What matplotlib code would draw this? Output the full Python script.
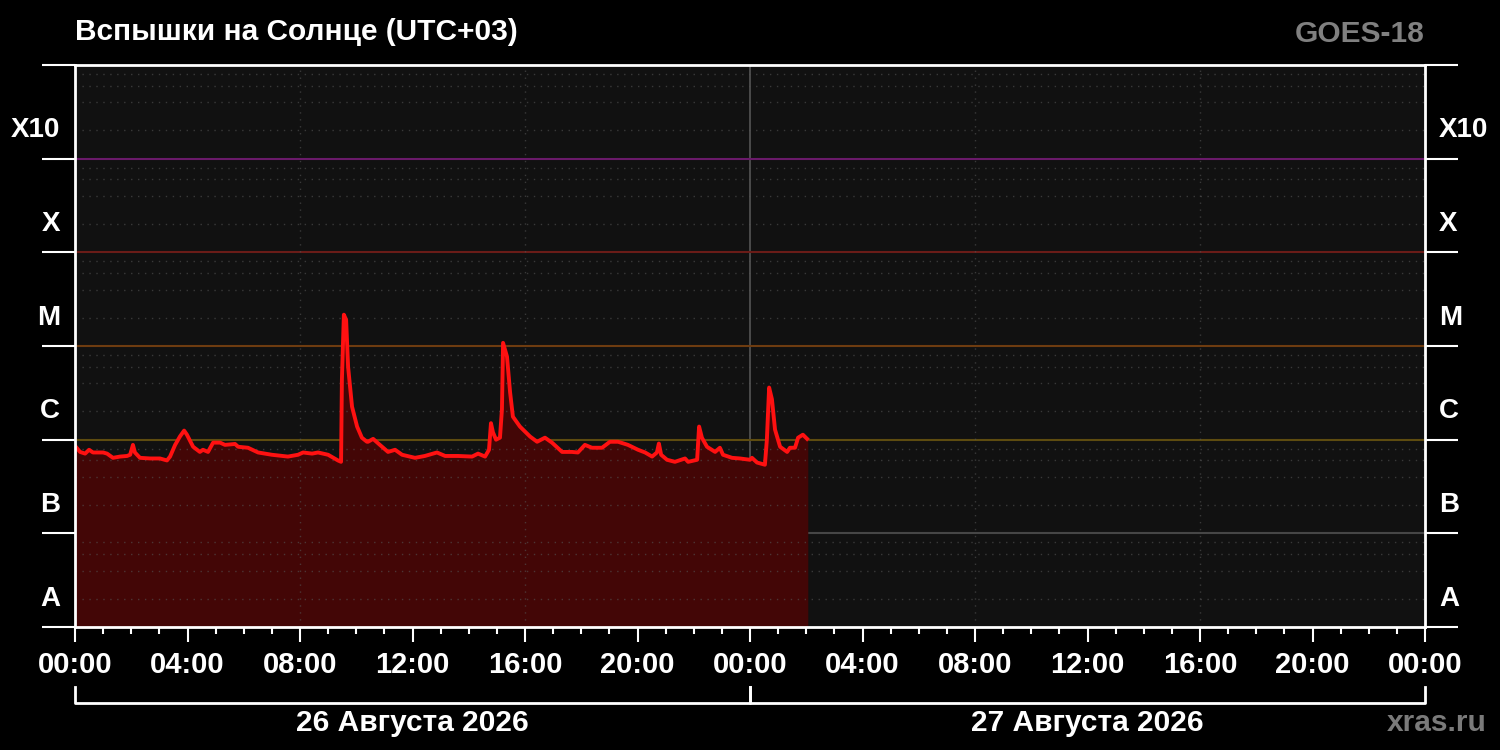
import numpy as np
import pandas as pd
import matplotlib
matplotlib.use('Agg')
from matplotlib import pyplot as plt
import matplotlib.dates as mdates
from matplotlib.transforms import blended_transform_factory
from matplotlib.ticker import LogLocator, NullFormatter

# hours since 26 Aug 2026 00:00 (UTC+03) and X-ray flux, W/m^2
hours = [0.0, 0.18, 0.36, 0.50, 0.64, 0.78, 1.0, 1.14, 1.35, 1.6, 1.85, 1.96, 2.06, 2.13, 2.31,
         2.67, 3.02, 3.27, 3.38, 3.56, 3.73, 3.88, 3.98, 4.2, 4.44, 4.55, 4.73, 4.91, 5.16,
         5.33, 5.69, 5.8, 6.15, 6.51, 7.0, 7.57, 7.93, 8.11, 8.43, 8.64, 9.0, 9.35, 9.46,
         9.49, 9.56, 9.64, 9.71, 9.85, 10.03, 10.2, 10.38, 10.42, 10.6, 10.84, 11.13, 11.38,
         11.63, 12.09, 12.44, 12.87, 13.16, 13.62, 14.12, 14.33, 14.58, 14.72, 14.79, 14.86,
         14.97, 15.11, 15.18, 15.22, 15.36, 15.47, 15.57, 15.82, 16.18, 16.43, 16.71, 16.96,
         17.32, 17.67, 17.88, 18.13, 18.38, 18.74, 19.02, 19.31, 19.66, 20.02, 20.27, 20.52,
         20.69, 20.76, 20.84, 21.05, 21.33, 21.69, 21.8, 22.12, 22.19, 22.29, 22.47, 22.76,
         22.93, 23.04, 23.36, 23.64, 24.0, 24.07, 24.25, 24.53, 24.6, 24.68, 24.78, 24.89,
         25.07, 25.32, 25.42, 25.6, 25.71, 25.88, 26.03]
flux = [8.6e-7, 7.4e-7, 7.1e-7, 7.8e-7, 7.3e-7, 7.3e-7, 7.3e-7, 7.1e-7, 6.4e-7, 6.6e-7, 6.7e-7,
        6.9e-7, 8.8e-7, 7.3e-7, 6.4e-7, 6.3e-7, 6.3e-7, 6.0e-7, 6.6e-7, 8.8e-7, 1.08e-6, 1.25e-6,
        1.13e-6, 8.4e-7, 7.4e-7, 7.8e-7, 7.4e-7, 9.3e-7, 9.3e-7,
        8.8e-7, 9.0e-7, 8.4e-7, 8.2e-7, 7.3e-7, 6.9e-7, 6.6e-7, 6.9e-7, 7.3e-7, 7.1e-7, 7.3e-7,
        6.9e-7, 6.0e-7, 5.8e-7, 4.4e-6, 2.16e-5, 1.9e-5, 6.0e-6, 2.25e-6, 1.38e-6, 1.05e-6,
        9.5e-7, 9.5e-7, 1.02e-6, 8.8e-7, 7.4e-7, 7.8e-7, 6.9e-7, 6.4e-7, 6.7e-7, 7.3e-7, 6.7e-7,
        6.7e-7, 6.6e-7, 7.1e-7, 6.6e-7, 7.8e-7, 1.5e-6, 1.2e-6, 1.0e-6, 1.05e-6, 2.1e-6, 1.08e-5,
        7.7e-6, 3.2e-6, 1.76e-6, 1.38e-6, 1.08e-6, 9.5e-7, 1.05e-6, 9.3e-7, 7.4e-7, 7.4e-7,
        7.3e-7, 8.8e-7, 8.2e-7, 8.2e-7, 9.5e-7, 9.5e-7, 8.8e-7, 7.8e-7, 7.3e-7, 6.6e-7, 7.3e-7,
        9.1e-7, 6.9e-7, 6.1e-7, 5.8e-7, 6.3e-7, 5.8e-7, 6.1e-7, 1.38e-6, 1.05e-6, 8.4e-7,
        7.4e-7, 8.2e-7, 6.9e-7, 6.4e-7, 6.3e-7, 6.1e-7, 6.4e-7, 5.7e-7, 5.4e-7, 1.0e-6, 3.6e-6,
        2.7e-6, 1.28e-6, 8.4e-7, 7.4e-7, 8.2e-7, 8.2e-7, 1.05e-6, 1.13e-6, 1.02e-6]

classes = ['A', 'B', 'C', 'M', 'X', 'X10']
class_base = [1e-8, 1e-7, 1e-6, 1e-5, 1e-4, 1e-3]
level_values = [1e-7, 1e-6, 1e-5, 1e-4, 1e-3]
level_colors = ['#464646', '#5e4c10', '#6e3c10', '#6a1c18', '#6a1a6a']
day_labels = ['26 Августа 2026', '27 Августа 2026']

plt.rcParams['font.family'] = ['Liberation Sans', 'DejaVu Sans']
plt.rcParams['font.weight'] = 'bold'

start = pd.Timestamp('2026-08-26 00:00')
times = start + pd.to_timedelta(hours, unit='h')
x0 = mdates.date2num(start)
x1 = mdates.date2num(start + pd.Timedelta(hours=48))

fig = plt.figure(figsize=(15, 7.5), dpi=100, facecolor='black')
ax = fig.add_axes([0.05, 0.164, 0.9, 0.7493])
ax.set_facecolor('#111111')
ax.set_yscale('log')
ax.set_ylim(1e-8, 1e-2)
ax.set_xlim(x0, x1)

# dotted grid (drawn faintly over the fill too)
ax.yaxis.set_minor_locator(LogLocator(base=10, subs=[2, 4, 6, 8]))
ax.yaxis.set_minor_formatter(NullFormatter())
ax.grid(which='minor', axis='y', color='#555555', alpha=0.6, linestyle=(0, (1, 4)),
        linewidth=1, zorder=2.5)
ax.set_axisbelow(False)
for h in [8, 16, 32, 40]:
    ax.axvline(start + pd.Timedelta(hours=h), color='#555555', alpha=0.6,
               linestyle=(0, (1, 4)), linewidth=1, zorder=2.5)
ax.axvline(start + pd.Timedelta(hours=24), color='#555555', linewidth=1.2, zorder=1)

for v, c in zip(level_values, level_colors):
    ax.axhline(v, color=c, linewidth=1.5, zorder=1)

ax.fill_between(times, flux, 1e-8, color='#430606', zorder=2)
ax.plot(times, flux, color='#ff1111', linewidth=2.8, zorder=3)

for s in ax.spines.values():
    s.set_color('white')
    s.set_linewidth(2)
    s.set_zorder(4)

ax.yaxis.set_major_locator(LogLocator(base=10, numticks=20))
ax.tick_params(axis='y', which='major', direction='out', length=23.8, width=1.5,
               color='white', left=True, right=True, labelleft=False, labelright=False)
ax.tick_params(axis='y', which='minor', length=0)

ax.xaxis.set_major_locator(mdates.HourLocator(byhour=range(0, 24, 4)))
ax.xaxis.set_minor_locator(mdates.HourLocator())
ax.xaxis.set_major_formatter(mdates.DateFormatter('%H:%M'))
ax.tick_params(axis='x', which='major', direction='out', length=11, width=1.5,
               color='white', labelcolor='white', labelsize=21, pad=6)
ax.tick_params(axis='x', which='minor', direction='out', length=5, width=1.5, color='white')

# class labels on both sides
left_tr = blended_transform_factory(fig.transFigure, ax.transData)
for name, base in zip(classes, class_base):
    ax.text(0.040, base * 2, name, transform=left_tr, ha='right', va='center',
            color='white', fontsize=20)
    ax.text(0.9593, base * 2, name, transform=left_tr, ha='left', va='center',
            color='white', fontsize=20)

# day brackets
br_tr = blended_transform_factory(ax.transData, fig.transFigure)
for i, lbl in enumerate(day_labels):
    a = x0 + i
    b = x0 + i + 1
    ax.plot([a, a, b, b], [0.084, 0.0627, 0.0627, 0.084], color='white', linewidth=2,
            transform=br_tr, clip_on=False)
    ax.text((a + b) / 2, 0.036, lbl, transform=br_tr, ha='center', va='center',
            color='white', fontsize=21.5)

fig.text(0.05, 0.958, 'Вспышки на Солнце (UTC+03)', ha='left', va='center',
         color='white', fontsize=21.5)
fig.text(0.95, 0.955, 'GOES-18', ha='right', va='center', color='#808080', fontsize=21.5)
fig.text(0.991, 0.036, 'xras.ru', ha='right', va='center', color='#7a7a7a', fontsize=21.5)

fig.savefig('out.png', dpi=100, facecolor='black')
